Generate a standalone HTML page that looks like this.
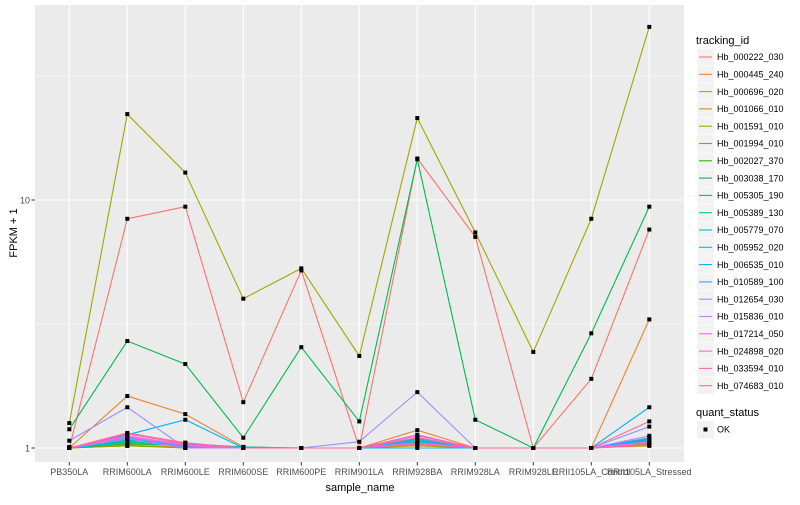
<!DOCTYPE html>
<html><head><meta charset="utf-8"><style>
body{margin:0;background:#fff;font-family:"Liberation Sans",sans-serif}
svg text{font-family:"Liberation Sans",sans-serif}
</style></head><body>
<svg id="chart" width="800" height="500" xmlns="http://www.w3.org/2000/svg">
<rect x="35" y="5" width="649" height="457" fill="#EBEBEB"/>
<g id="grid"></g><g id="lines"></g><g id="pts"></g><g id="axes"></g><g id="legend"></g>
</svg>
<script>
const categories=["PB350LA","RRIM600LA","RRIM600LE","RRIM600SE","RRIM600PE","RRIM901LA","RRIM928BA","RRIM928LA","RRIM928LE","RRII105LA_Control","RRII105LA_Stressed"];
const seriesNames=["Hb_000222_030","Hb_000445_240","Hb_000696_020","Hb_001066_010","Hb_001591_010","Hb_001994_010","Hb_002027_370","Hb_003038_170","Hb_005305_190","Hb_005389_130","Hb_005779_070","Hb_005952_020","Hb_006535_010","Hb_010589_100","Hb_012654_030","Hb_015836_010","Hb_017214_050","Hb_024898_020","Hb_033594_010","Hb_074683_010"];
const colors=["#F8766D","#EA8331","#D89000","#C09B00","#A3A500","#7CAE00","#39B600","#00BB4E","#00BF7D","#00C1A3","#00BFC4","#00BAE0","#00B0F6","#35A2FF","#9590FF","#C77CFF","#E76BF3","#FA62DB","#FF62BC","#FF6C91"];
const s00=[1.0,8.4,9.4,1.53,5.2,1.0,14.7,7.1,1.0,1.9,7.6];
const s01=[1.0,1.62,1.37,1.01,1.0,1.0,1.18,1.0,1.0,1.0,3.3];
const s02=[1.0,1.02,1.01,1.0,1.0,1.0,1.03,1.0,1.0,1.0,1.02];
const s03=[1.01,1.03,1.0,1.0,1.0,1.0,1.02,1.0,1.0,1.0,1.03];
const s04=[1.26,22.2,12.9,4.0,5.3,2.35,21.4,7.4,2.44,8.4,49.9];
const s05=[1.0,1.02,1.0,1.0,1.0,1.0,1.04,1.0,1.0,1.0,1.04];
const s06=[1.0,1.04,1.02,1.0,1.0,1.0,1.05,1.0,1.0,1.0,1.06];
const s07=[1.19,2.7,2.18,1.1,2.55,1.28,14.6,1.3,1.0,2.9,9.4];
const s08=[1.0,1.06,1.03,1.0,1.0,1.0,1.06,1.0,1.0,1.0,1.09];
const s09=[1.0,1.08,1.04,1.01,1.0,1.0,1.08,1.0,1.0,1.0,1.07];
const s10=[1.0,1.07,1.05,1.0,1.0,1.0,1.1,1.0,1.0,1.0,1.05];
const s11=[1.0,1.05,1.02,1.0,1.0,1.0,1.09,1.0,1.0,1.0,1.08];
const s12=[1.0,1.13,1.3,1.0,1.0,1.0,1.0,1.0,1.0,1.0,1.46];
const s13=[1.0,1.1,1.01,1.0,1.0,1.0,1.07,1.0,1.0,1.0,1.1];
const s14=[1.07,1.46,1.0,1.0,1.0,1.06,1.68,1.0,1.0,1.0,1.22];
const s15=[1.0,1.09,1.0,1.0,1.0,1.0,1.05,1.0,1.0,1.0,1.12];
const s16=[1.0,1.11,1.02,1.0,1.0,1.0,1.12,1.0,1.0,1.0,1.06];
const s17=[1.0,1.12,1.03,1.0,1.0,1.0,1.04,1.0,1.0,1.0,1.05];
const s18=[1.0,1.14,1.04,1.0,1.0,1.0,1.13,1.0,1.0,1.0,1.03];
const s19=[1.0,1.15,1.05,1.0,1.0,1.0,1.1,1.0,1.0,1.0,1.28];
const series=[s00,s01,s02,s03,s04,s05,s06,s07,s08,s09,s10,s11,s12,s13,s14,s15,s16,s17,s18,s19];
const yTicks=[1,10];
const yTickLabels=["1","10"];
const yMinor=[Math.sqrt(10),Math.sqrt(1000)];
const NS="http://www.w3.org/2000/svg";
const xPos=i=>69.3+58*i;
const yPos=v=>448-248*Math.log10(v);
function mk(tag,attrs,parent){const e=document.createElementNS(NS,tag);for(const k in attrs)e.setAttribute(k,attrs[k]);parent.appendChild(e);return e;}
const grid=document.getElementById('grid'),lines=document.getElementById('lines'),pts=document.getElementById('pts'),axes=document.getElementById('axes'),legend=document.getElementById('legend');
yMinor.forEach(v=>{const l=mk('line',{x1:35,x2:684,y1:yPos(v),y2:yPos(v),stroke:'#fff','stroke-width':0.5},grid);

});
yTicks.forEach((v,i)=>{const l=mk('line',{x1:35,x2:684,y1:yPos(v),y2:yPos(v),stroke:'#fff','stroke-width':1.1},grid);


const t=mk('line',{x1:31.5,x2:35,y1:yPos(v),y2:yPos(v),stroke:'#333','stroke-width':1},axes);


const tx=mk('text',{x:30,y:yPos(v)+3.5,'text-anchor':'end','font-size':9,fill:'#4D4D4D'},axes);tx.textContent=yTickLabels[i];

});
categories.forEach((c,i)=>{const x=xPos(i);
const l=mk('line',{x1:x,x2:x,y1:5,y2:462,stroke:'#fff','stroke-width':1.1},grid);


const t=mk('line',{x1:x,x2:x,y1:462,y2:465.5,stroke:'#333','stroke-width':1},axes);


const tx=mk('text',{x:x,y:475,'text-anchor':'middle','font-size':9,fill:'#4D4D4D'},axes);tx.textContent=c;

});
series.forEach((s,k)=>{const p=mk('polyline',{points:s.map((v,i)=>xPos(i)+','+yPos(v)).join(' '),fill:'none',stroke:colors[k],'stroke-width':1.1},lines);


s.forEach((v,i)=>{const r=mk('rect',{x:xPos(i)-2,y:yPos(v)-2,width:4,height:4,fill:'#000'},pts);

});});
let t=mk('text',{x:360,y:491,'text-anchor':'middle','font-size':11,fill:'#000'},axes);t.textContent='sample_name';


t=mk('text',{x:17,y:233,'text-anchor':'middle','font-size':11,fill:'#000',transform:'rotate(-90 17 233)'},axes);t.textContent='FPKM + 1';


t=mk('text',{x:696,y:44,'font-size':11,fill:'#000'},legend);t.textContent='tracking_id';


seriesNames.forEach((n,k)=>{const y=57+17.3*k;
const g=mk('g',{},legend);


mk('rect',{x:697,y:y-8.6,width:17,height:17.3,fill:'#F2F2F2',stroke:'#fff','stroke-width':0.5},g);
mk('line',{x1:699,x2:712,y1:y,y2:y,stroke:colors[k],'stroke-width':1.1},g);
const tx=mk('text',{x:717,y:y+3.2,'font-size':9,fill:'#000'},g);tx.textContent=n;});
t=mk('text',{x:696,y:416,'font-size':11,fill:'#000'},legend);t.textContent='quant_status';


const g2=mk('g',{},legend);


mk('rect',{x:697,y:421,width:17,height:17.3,fill:'#F2F2F2'},g2);
mk('rect',{x:703.5,y:427.5,width:4,height:4,fill:'#000'},g2);
const ok=mk('text',{x:717,y:432.7,'font-size':9,fill:'#000'},g2);ok.textContent='OK';
</script>
</body></html>
